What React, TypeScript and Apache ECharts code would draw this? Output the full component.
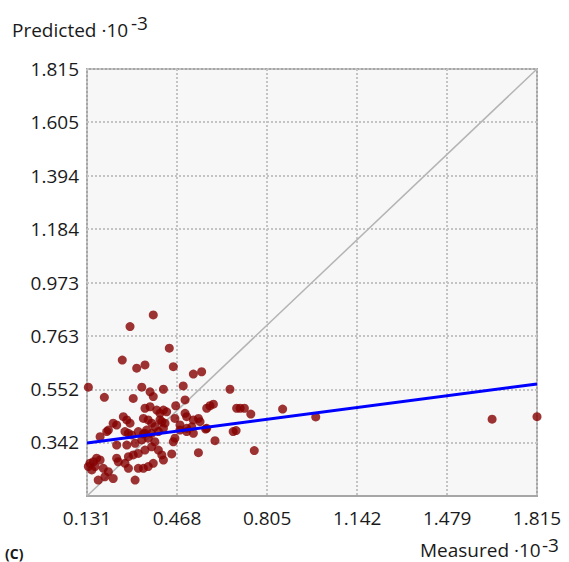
import React, { useEffect, useRef } from "react";
import * as echarts from "echarts";

const xTicks = [0.131, 0.468, 0.805, 1.142, 1.479, 1.815];
const yTicks = [0.342, 0.552, 0.763, 0.973, 1.184, 1.394, 1.605, 1.815];
const axisMin = 0.131;
const axisMax = 1.815;

const measured = [
  0.379, 0.292, 0.439, 0.263, 0.317, 0.348, 0.454, 0.529, 0.56, 0.136,
  0.336, 0.367, 0.417, 0.491, 0.666, 0.196, 0.304, 0.379, 0.498, 0.463,
  0.579, 0.591, 0.604, 0.691, 0.704, 0.72, 0.744, 0.863, 0.987, 1.647,
  1.815, 0.689, 0.757, 0.417, 0.429, 0.498, 0.504, 0.529, 0.548, 0.554,
  0.46, 0.404, 0.423, 0.417, 0.479, 0.504, 0.523, 0.579, 0.348, 0.367,
  0.392, 0.404, 0.342, 0.36, 0.373, 0.385, 0.411, 0.267, 0.28, 0.292,
  0.229, 0.242, 0.211, 0.273, 0.286, 0.354, 0.348, 0.205, 0.18, 0.298,
  0.323, 0.342, 0.373, 0.398, 0.242, 0.28, 0.311, 0.336, 0.36, 0.385,
  0.142, 0.155, 0.167, 0.18, 0.136, 0.161, 0.149, 0.192, 0.211, 0.242,
  0.248, 0.286, 0.304, 0.323, 0.348, 0.373, 0.398, 0.273, 0.286, 0.323,
  0.342, 0.36, 0.379, 0.311, 0.173, 0.198, 0.46, 0.454, 0.61, 0.411,
  0.417, 0.448, 0.548, 0.678, 0.479, 0.504, 0.529, 0.575, 0.229,
];

const predicted = [
  0.845, 0.799, 0.714, 0.667, 0.635, 0.648, 0.641, 0.612, 0.621, 0.56,
  0.56, 0.542, 0.552, 0.565, 0.552, 0.52, 0.516, 0.523, 0.51, 0.487,
  0.477, 0.487, 0.493, 0.477, 0.477, 0.477, 0.454, 0.474, 0.443, 0.434,
  0.444, 0.389, 0.31, 0.47, 0.463, 0.457, 0.444, 0.431, 0.437, 0.424,
  0.437, 0.431, 0.418, 0.398, 0.411, 0.398, 0.404, 0.398, 0.477, 0.483,
  0.47, 0.457, 0.437, 0.431, 0.418, 0.404, 0.424, 0.444, 0.431, 0.418,
  0.418, 0.411, 0.391, 0.385, 0.378, 0.391, 0.378, 0.385, 0.365, 0.372,
  0.385, 0.376, 0.378, 0.385, 0.332, 0.332, 0.339, 0.352, 0.359, 0.345,
  0.26, 0.266, 0.28, 0.273, 0.247, 0.247, 0.234, 0.24, 0.227, 0.28,
  0.266, 0.286, 0.293, 0.299, 0.312, 0.325, 0.312, 0.26, 0.24, 0.24,
  0.24, 0.247, 0.26, 0.194, 0.194, 0.207, 0.359, 0.345, 0.349, 0.293,
  0.273, 0.297, 0.302, 0.385, 0.391, 0.385, 0.378, 0.395, 0.2,
];

const fitLine = [
  [0.131, 0.34],
  [1.815, 0.573],
];
const identityLine = [
  [0.131, 0.131],
  [1.815, 1.815],
];

const FONT = "'Open Sans', 'Noto Sans', sans-serif";
const FS = 19;

export default function App() {
  const ref = useRef<HTMLDivElement>(null);

  useEffect(() => {
    document.body.style.margin = "0";
    const chart = echarts.init(ref.current!, null, { renderer: "svg" });
    const points = measured.map((m, i) => [m, predicted[i]]);
    chart.setOption({
      animation: false,
      backgroundColor: "#ffffff",
      grid: {
        left: 87,
        right: 32,
        top: 69,
        bottom: 66,
        show: true,
        backgroundColor: "#f7f7f7",
        borderColor: "#a6a6a6",
        borderWidth: 2,
      },
      xAxis: {
        type: "value",
        min: axisMin,
        max: axisMax,
        axisLine: { show: false },
        axisTick: { show: false, customValues: xTicks },
        axisLabel: {
          customValues: xTicks,
          formatter: (v: number) => v.toFixed(3),
          fontSize: FS,
          fontFamily: FONT,
          color: "#1a1a1a",
          margin: 12,
        },
        splitLine: {
          show: true,
          lineStyle: { color: "#c4c4c4", type: [2, 2], width: 2 },
        },
      },
      yAxis: {
        type: "value",
        min: axisMin,
        max: axisMax,
        axisLine: { show: false },
        axisTick: { show: false, customValues: yTicks },
        axisLabel: {
          customValues: yTicks,
          formatter: (v: number) => v.toFixed(3),
          fontSize: FS,
          fontFamily: FONT,
          color: "#1a1a1a",
          margin: 8,
        },
        splitLine: {
          show: true,
          lineStyle: { color: "#c4c4c4", type: [2, 2], width: 2 },
        },
      },
      series: [
        {
          type: "line",
          data: identityLine,
          symbol: "none",
          lineStyle: { color: "#b4b4b4", width: 1.5 },
          z: 2,
        },
        {
          type: "scatter",
          data: points,
          symbol: "circle",
          symbolSize: 9,
          itemStyle: { color: "#850000" },
          z: 3,
        },
        {
          type: "line",
          data: fitLine,
          symbol: "none",
          lineStyle: { color: "#0000ff", width: 3 },
          z: 4,
        },
      ],
      graphic: [
        {
          type: "text",
          x: 12,
          y: 20,
          style: { text: "Predicted ·10", fontSize: FS, fontFamily: FONT, fill: "#1a1a1a" },
        },
        {
          type: "text",
          x: 131,
          y: 13,
          style: { text: "-3", fontSize: FS, fontFamily: FONT, fill: "#1a1a1a" },
        },
        {
          type: "text",
          x: 420,
          y: 540,
          style: { text: "Measured ·10", fontSize: FS, fontFamily: FONT, fill: "#1a1a1a" },
        },
        {
          type: "text",
          x: 542,
          y: 535,
          style: { text: "-3", fontSize: FS, fontFamily: FONT, fill: "#1a1a1a" },
        },
        {
          type: "text",
          x: 5,
          y: 546,
          style: { text: "(C)", fontSize: 14, fontWeight: "bold", fontFamily: FONT, fill: "#1a1a1a" },
        },
      ],
    });
    return () => chart.dispose();
  }, []);

  return <div ref={ref} style={{ width: 569, height: 562 }} />;
}
